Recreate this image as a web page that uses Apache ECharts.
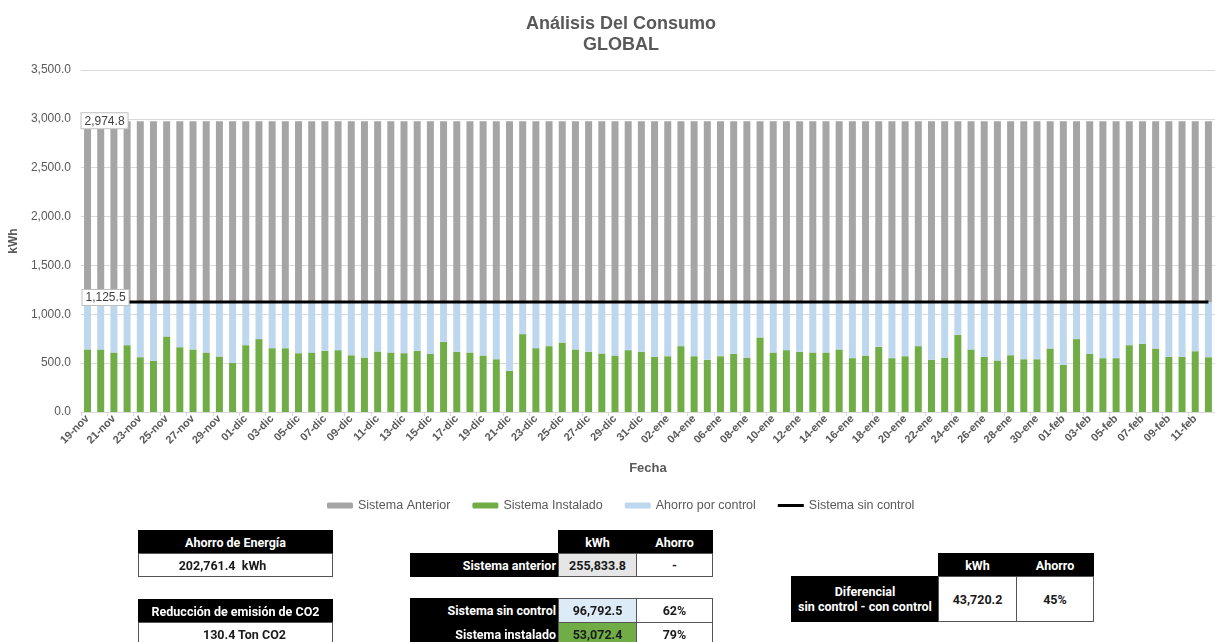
<!DOCTYPE html>
<html>
<head>
<meta charset="utf-8">
<script src="https://cdn.jsdelivr.net/npm/echarts@6/dist/echarts.min.js"></script>
<style>
  html, body { margin:0; padding:0; background:#fff; }
  #chart { position:absolute; left:0; top:0; width:1215px; height:642px; }
  .cell { position:absolute; box-sizing:border-box; border:1px solid #555; display:flex; align-items:center; justify-content:center;
          font-family: Roboto, "Liberation Sans", sans-serif; font-weight:bold; font-size:12.5px; color:#1a1a1a; background:#fff; text-align:center; line-height:15px; z-index:5; }
  .blk { background:#000; color:#fff; border-color:#000; }
</style>
</head>
<body>
<div id="chart"></div>

<div class="cell blk" style="left:138px;top:530px;width:195px;height:24px;">Ahorro de Energía</div>
<div class="cell" style="left:138px;top:553px;width:195px;height:24px;padding-right:26px;">202,761.4&nbsp; kWh</div>
<div class="cell blk" style="left:138px;top:599px;width:195px;height:24px;">Reducción de emisión de CO2</div>
<div class="cell" style="left:138px;top:622px;width:195px;height:24px;padding-left:18px;">130.4 Ton CO2</div>

<div class="cell blk" style="left:558px;top:530px;width:79px;height:24px;">kWh</div>
<div class="cell blk" style="left:636px;top:530px;width:77px;height:24px;">Ahorro</div>
<div class="cell blk" style="left:410px;top:553px;width:149px;height:24px;justify-content:flex-end;padding-right:2px;">Sistema anterior</div>
<div class="cell" style="left:558px;top:553px;width:79px;height:24px;background:#E7E6E6;">255,833.8</div>
<div class="cell" style="left:636px;top:553px;width:77px;height:24px;">-</div>
<div class="cell blk" style="left:410px;top:598px;width:149px;height:25px;justify-content:flex-end;padding-right:2px;">Sistema sin control</div>
<div class="cell" style="left:558px;top:598px;width:79px;height:25px;background:#DDEBF7;">96,792.5</div>
<div class="cell" style="left:636px;top:598px;width:77px;height:25px;">62%</div>
<div class="cell blk" style="left:410px;top:622px;width:149px;height:24px;justify-content:flex-end;padding-right:2px;">Sistema instalado</div>
<div class="cell" style="left:558px;top:622px;width:79px;height:24px;background:#70AD47;">53,072.4</div>
<div class="cell" style="left:636px;top:622px;width:77px;height:24px;">79%</div>

<div class="cell blk" style="left:938px;top:553px;width:79px;height:24px;">kWh</div>
<div class="cell blk" style="left:1016px;top:553px;width:78px;height:24px;">Ahorro</div>
<div class="cell blk" style="left:791px;top:576px;width:148px;height:46px;">Diferencial<br>sin control - con control</div>
<div class="cell" style="left:938px;top:576px;width:79px;height:46px;">43,720.2</div>
<div class="cell" style="left:1016px;top:576px;width:78px;height:46px;">45%</div>

<script>
// ---- Data ----
var categories = [
  '19-nov','20-nov','21-nov','22-nov','23-nov','24-nov','25-nov','26-nov','27-nov','28-nov','29-nov','30-nov',
  '01-dic','02-dic','03-dic','04-dic','05-dic','06-dic','07-dic','08-dic','09-dic','10-dic','11-dic','12-dic','13-dic','14-dic','15-dic','16-dic','17-dic','18-dic','19-dic','20-dic','21-dic','22-dic','23-dic','24-dic','25-dic','26-dic','27-dic','28-dic','29-dic','30-dic','31-dic',
  '01-ene','02-ene','03-ene','04-ene','05-ene','06-ene','07-ene','08-ene','09-ene','10-ene','11-ene','12-ene','13-ene','14-ene','15-ene','16-ene','17-ene','18-ene','19-ene','20-ene','21-ene','22-ene','23-ene','24-ene','25-ene','26-ene','27-ene','28-ene','29-ene','30-ene','31-ene',
  '01-feb','02-feb','03-feb','04-feb','05-feb','06-feb','07-feb','08-feb','09-feb','10-feb','11-feb','12-feb'
];

// Sistema Instalado (kWh per day)
var sistemaInstalado = [
  640,640,609,684,561,523,773,663,640,609,568,503,
  684,746,653,653,602,609,626,633,581,557,619,609,602,626,595,718,616,609,578,540,421,797,653,674,711,640,616,599,578,633,616,
  564,571,674,571,534,571,595,557,763,609,633,616,609,609,640,551,578,667,551,571,674,534,557,790,640,564,527,581,540,540,
  650,482,746,595,551,551,684,698,650,564,564,622,561
];

var sistemaAnteriorValue = 2974.8;     // constant daily consumption, previous system
var sistemaSinControlValue = 1125.5;   // constant daily consumption, system without control

var sistemaAnterior = categories.map(function(){ return sistemaAnteriorValue; });
var sistemaSinControl = categories.map(function(){ return sistemaSinControlValue; });

var yTicks = { min: 0, max: 3500, interval: 500 };

// Derived stacked segments
var ahorroPorControl = sistemaSinControl.map(function(v, i){ return +(v - sistemaInstalado[i]).toFixed(1); });
var anteriorSegment = sistemaAnterior.map(function(v, i){ return +(v - sistemaSinControl[i]).toFixed(1); });

function fmt1(v){ return Number(v).toLocaleString('en-US', {minimumFractionDigits:1, maximumFractionDigits:1}); }

var font = 'Liberation Sans, Arial, sans-serif';
var gray = '#595959';

var labelBox = {
  show: true, backgroundColor: '#fff', borderColor: '#BFBFBF', borderWidth: 1,
  padding: [2, 3, 1, 3], color: '#404040', fontSize: 12, fontFamily: font
};

var anteriorData = anteriorSegment.map(function(v, i){
  if (i === 0) {
    return { value: v, label: Object.assign({}, labelBox, {
      position: 'top', offset: [17, 7], distance: 0,
      formatter: function(){ return fmt1(sistemaAnterior[0]); }
    })};
  }
  return v;
});

var chart = echarts.init(document.getElementById('chart'), null, { renderer: 'canvas' });

chart.setOption({
  animation: false,
  textStyle: { fontFamily: font },
  title: {
    text: 'Análisis Del Consumo\nGLOBAL',
    left: 616, top: 9, textAlign: 'center',
    textStyle: { fontSize: 18, fontWeight: 'bold', color: gray, lineHeight: 21, fontFamily: font }
  },
  legend: {
    left: 322, top: 494,
    itemWidth: 26, itemHeight: 6, itemGap: 22,
    textStyle: { fontSize: 12.5, color: gray, fontFamily: font },
    data: [
      'Sistema Anterior', 'Sistema Instalado', 'Ahorro por control',
      { name: 'Sistema sin control', icon: 'path://M0,0L26,0L26,0.01L0,0.01Z M0,1.5L26,1.5L26,4.5L0,4.5Z M0,5.99L26,5.99L26,6L0,6Z' }
    ]
  },
  grid: { left: 76, right: 0, top: 70, bottom: 230, containLabel: false },
  xAxis: {
    type: 'category',
    data: categories,
    name: 'Fecha', nameLocation: 'middle', nameGap: 50,
    nameTextStyle: { fontSize: 13, fontWeight: 'bold', color: gray, fontFamily: font },
    axisLine: { lineStyle: { color: '#D9D9D9', width: 1 } },
    axisTick: { show: true, interval: 1, length: 4, lineStyle: { color: '#D9D9D9' } },
    axisLabel: { interval: 1, rotate: 45, fontSize: 11, fontWeight: 'bold', color: gray, margin: 5, fontFamily: font }
  },
  yAxis: {
    type: 'value', min: yTicks.min, max: yTicks.max, interval: yTicks.interval,
    name: 'kWh', nameLocation: 'middle', nameGap: 50,
    nameTextStyle: { fontSize: 12, fontWeight: 'bold', color: gray, fontFamily: font },
    axisLine: { show: false }, axisTick: { show: false },
    axisLabel: { fontSize: 12, color: gray, margin: 10, fontFamily: font, formatter: function(v){ return fmt1(v); } },
    splitLine: { lineStyle: { color: '#D9D9D9', width: 1 } }
  },
  series: [
    { name: 'Sistema Instalado', type: 'bar', stack: 'total', data: sistemaInstalado,
      barCategoryGap: '47%', itemStyle: { color: '#70AD47' } },
    { name: 'Ahorro por control', type: 'bar', stack: 'total', data: ahorroPorControl,
      itemStyle: { color: '#BDD7EE' } },
    { name: 'Sistema Anterior', type: 'bar', stack: 'total', data: anteriorData,
      itemStyle: { color: '#A5A5A5' }, z: 2 },
    { name: 'Sistema sin control', type: 'line', data: sistemaSinControl, symbol: 'none',
      lineStyle: { color: '#000', width: 3 }, itemStyle: { color: '#000' }, z: 3,
      markPoint: {
        z: 10,
        symbol: 'rect', symbolSize: 0, silent: true,
        label: Object.assign({}, labelBox, { position: 'top', offset: [18, 3], distance: 0,
          formatter: function(){ return fmt1(sistemaSinControl[0]); } }),
        data: [{ coord: [0, sistemaSinControl[0]], value: sistemaSinControl[0] }]
      }
    }
  ]
});
</script>
</body>
</html>
